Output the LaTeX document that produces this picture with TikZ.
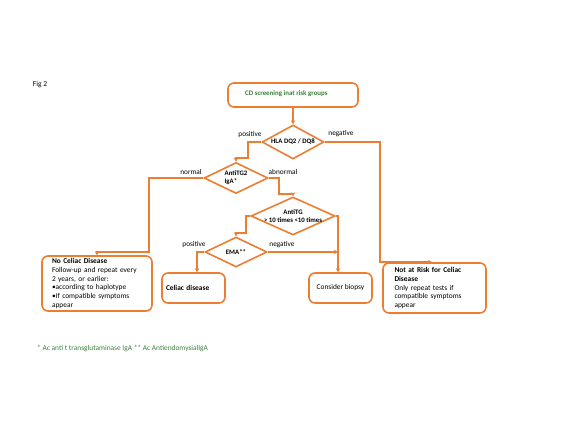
\documentclass[tikz,border=0pt]{standalone}
\usepackage{fontspec}
\setmainfont{Carlito}
\usetikzlibrary{shapes.geometric,arrows.meta,calc}
\definecolor{org}{RGB}{237,125,49}
\definecolor{grn}{RGB}{56,128,56}
\begin{document}
\begin{tikzpicture}[x=1pt,y=-1pt,
  box/.style={draw=org, line width=1.6pt, rounded corners=6pt, inner ysep=0pt, font=\fontsize{7.4}{8.8}\selectfont, align=left},
  dia/.style={draw=org, line width=1.6pt, diamond, inner sep=0pt},
  diatext/.style={font=\fontsize{6.8}{8.2}\selectfont\bfseries, align=center, inner sep=0pt},
  lbl/.style={font=\fontsize{7.3}{8}\selectfont, inner sep=0pt},
  conn/.style={draw=org, line width=1.6pt},
  arr/.style={conn, -{Stealth[length=4pt,width=4.5pt]}}
]
\useasboundingbox (0,0) rectangle (567,425);

\node[font=\fontsize{7.5}{9}\selectfont, inner sep=0pt] (fig) at (40,85) {Fig 2};

\node[box, minimum width=130pt, minimum height=24pt] (top) at (293,95) {};
\node[font=\fontsize{6.9}{8}\selectfont\bfseries, text=grn, anchor=west, inner sep=0pt] (toptext) at (245,94) {CD screening inat risk groups};

\node[dia, minimum width=62pt, minimum height=34pt, label={[diatext]center:HLA DQ2 / DQ8}] (hla) at (293,142) {};
\node[dia, minimum width=64pt, minimum height=31pt, label={[diatext, align=left]center:AntiTG2\\IgA*}] (tg2) at (236,178) {};
\node[dia, minimum width=84pt, minimum height=38pt, label={[diatext]center:AntiTG\\> 10 times <10 times}] (atg) at (293,216) {};
\node[dia, minimum width=62pt, minimum height=30pt, label={[diatext]center:EMA**}] (ema) at (236,252) {};

\node[box, text width=90pt, inner xsep=10pt, minimum height=55pt] (nocel) at (97,283.5)
  {\textbf{No Celiac Disease}\\Follow-up and repeat every\\2 years, or earlier:\\•according to haplotype\\•If compatible symptoms\\appear};
\node[box, text width=80pt, inner xsep=11.5pt, minimum height=50pt] (notrisk) at (434.5,288)
  {\textbf{Not at Risk for Celiac}\\\textbf{Disease}\\Only repeat tests if\\compatible symptoms\\appear};
\node[box, text width=55pt, inner xsep=4pt, minimum height=30pt] (celiac) at (193.5,288) {\textbf{Celiac disease}};
\node[box, align=center, minimum width=63pt, minimum height=30pt] (biopsy) at (340.5,288) {Consider biopsy};

\coordinate (c1) at (248,158);
\coordinate (c2) at (149,252);
\coordinate (c3) at (279,194);
\coordinate (c4) at (246,233);
\coordinate (c5) at (338,216);
\coordinate (c6) at (197,252);
\coordinate (c7) at (380,262);
\coordinate (c8) at (432,262);

\draw[arr] (top.south) -- (hla.north);
\draw[arr] (hla.west) -| (c1) -| (tg2.north);
\draw[arr] (hla.east) -| (c7) -- (c8);
\draw[arr] (tg2.west) -| (c2) -| (nocel.north);
\draw[arr] (tg2.east) -| (c3) -| (atg.north);
\draw[arr] (atg.west) -| (c4) -| (ema.north);
\draw[arr] (atg.east) -- (c5) -- (c5 |- biopsy.north);
\draw[arr] (ema.east) -- (ema.east -| c5);
\draw[arr] (ema.west) -| (c6) -- (c6 |- celiac.north);

\node[lbl] (lpos1) at (250,135) {positive};
\node[lbl] (lneg1) at (341,134) {negative};
\node[lbl] (lnorm) at (191,172) {normal};
\node[lbl] (labn) at (283,172) {abnormal};
\node[lbl] (lpos2) at (194,245) {positive};
\node[lbl] (lneg2) at (282,245) {negative};

\node[font=\fontsize{7.4}{8}\selectfont, text=grn, anchor=west, inner sep=0pt] (foot) at (37,349) {* Ac anti t transglutaminase IgA ** Ac AntiendomysialIgA};
\end{tikzpicture}
\end{document}
